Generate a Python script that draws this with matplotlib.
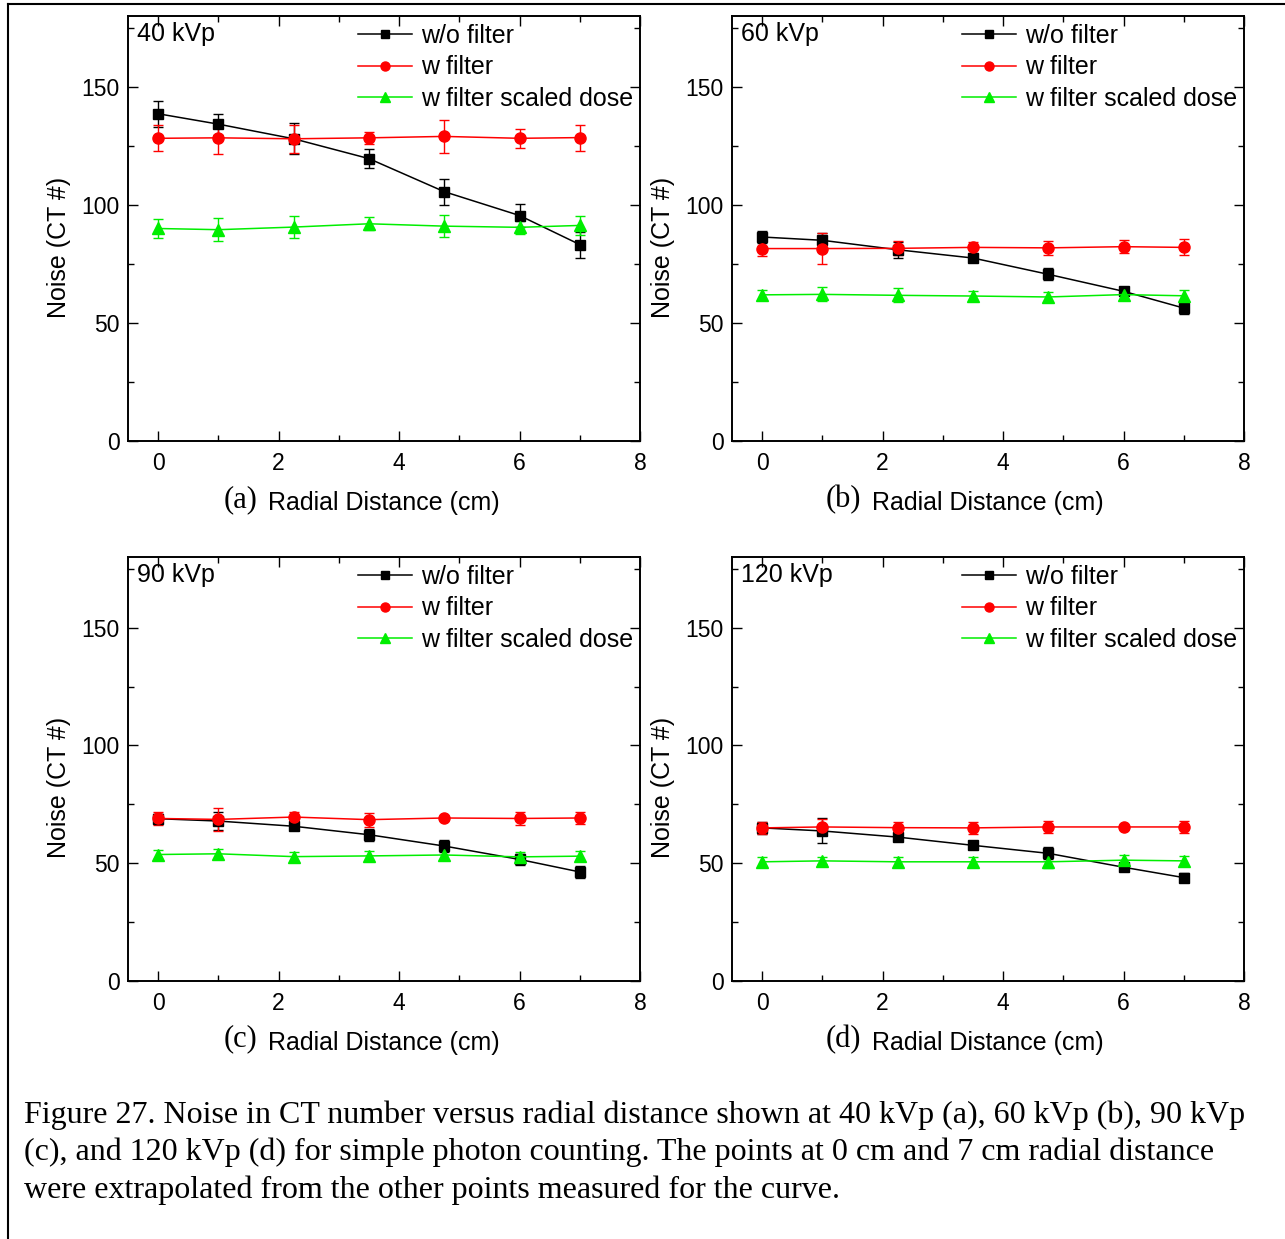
import numpy as np
import matplotlib
matplotlib.use('Agg')
import matplotlib.pyplot as plt
from matplotlib.lines import Line2D
from matplotlib.ticker import MultipleLocator

plt.rcParams['font.family'] = ['Liberation Sans', 'DejaVu Sans']

radial_cm = [0, 1, 2.25, 3.5, 4.75, 6, 7]
kvp_labels = ['40 kVp', '60 kVp', '90 kVp', '120 kVp']
panel_tags = ['(a)', '(b)', '(c)', '(d)']
series_names = ['w/o filter', 'w filter', 'w filter scaled dose']

# noise values (CT #) and error bars, one list per kVp
nofilt_40 = [138.6, 134.2, 128.0, 119.6, 105.6, 95.5, 83.2]
nofilt_40_err = [5.5, 4.5, 6.5, 4.0, 5.5, 5.0, 5.5]
filt_40 = [128.2, 128.4, 128.0, 128.4, 129.0, 128.2, 128.5]
filt_40_err = [5.5, 7.0, 6.0, 2.5, 7.0, 4.0, 5.5]
scaled_40 = [90.0, 89.5, 90.6, 92.0, 91.0, 90.5, 91.3]
scaled_40_err = [4.0, 5.0, 4.8, 2.8, 4.6, 2.7, 4.0]

nofilt_60 = [86.4, 85.0, 81.0, 77.5, 70.6, 63.4, 56.3]
nofilt_60_err = [2.4, 3.0, 3.3, 1.5, 2.5, 1.5, 2.5]
filt_60 = [81.5, 81.5, 81.6, 82.0, 81.8, 82.3, 82.0]
filt_60_err = [3.2, 6.5, 3.0, 2.4, 2.9, 2.8, 3.4]
scaled_60 = [61.9, 62.1, 61.7, 61.4, 61.0, 62.0, 61.5]
scaled_60_err = [2.2, 3.0, 3.0, 2.0, 2.0, 2.0, 2.3]

nofilt_90 = [68.9, 67.9, 65.7, 62.1, 57.3, 51.6, 46.3]
nofilt_90_err = [2.0, 3.9, 1.5, 2.6, 2.6, 2.5, 2.7]
filt_90 = [69.0, 68.6, 69.6, 68.5, 69.2, 69.0, 69.2]
filt_90_err = [2.9, 4.9, 2.1, 3.0, 1.0, 2.7, 2.7]
scaled_90 = [53.7, 54.0, 52.8, 53.1, 53.5, 52.7, 53.0]
scaled_90_err = [2.0, 2.0, 2.0, 2.0, 2.0, 2.0, 2.0]

nofilt_120 = [65.0, 63.7, 61.1, 57.6, 54.2, 48.3, 43.9]
nofilt_120_err = [2.5, 5.3, 1.0, 1.0, 2.5, 1.0, 2.0]
filt_120 = [65.0, 65.4, 65.1, 65.0, 65.4, 65.4, 65.4]
filt_120_err = [2.5, 3.5, 2.3, 2.5, 2.5, 1.0, 2.7]
scaled_120 = [50.6, 51.0, 50.6, 50.6, 50.6, 51.3, 51.0]
scaled_120_err = [2.0, 1.5, 2.0, 2.0, 2.5, 2.0, 2.0]

panels = [
    [(nofilt_40, nofilt_40_err), (filt_40, filt_40_err), (scaled_40, scaled_40_err)],
    [(nofilt_60, nofilt_60_err), (filt_60, filt_60_err), (scaled_60, scaled_60_err)],
    [(nofilt_90, nofilt_90_err), (filt_90, filt_90_err), (scaled_90, scaled_90_err)],
    [(nofilt_120, nofilt_120_err), (filt_120, filt_120_err), (scaled_120, scaled_120_err)],
]

colors = ['#000000', '#ff0000', '#00ee00']
markers = ['s', 'o', '^']
msizes = [7, 8, 8]

W, H = 1285, 1239
fig = plt.figure(figsize=(W / 100, H / 100), dpi=100)

# axes boxes in pixels: left, top, right, bottom
boxes = [(128, 16, 640, 441), (732, 16, 1244, 441),
         (128, 557, 640, 981), (732, 557, 1244, 981)]

for i, (l, t, r, b) in enumerate(boxes):
    ax = fig.add_axes([l / W, 1 - b / H, (r - l) / W, (b - t) / H])
    handles = []
    for (vals, errs), c, m, ms, name in zip(panels[i], colors, markers, msizes, series_names):
        ax.errorbar(radial_cm, vals, yerr=errs, color=c, ecolor=c, marker=m,
                    markersize=ms, linewidth=1.1,
                    elinewidth=1.0, capsize=3.5, capthick=1.0)
        handles.append(Line2D([], [], color=c, marker=m, markersize=ms - 1.5,
                              linewidth=1.1, label=name))
    ax.set_xlim(-0.5, 8)
    ax.set_ylim(0, 180)
    ax.xaxis.set_major_locator(MultipleLocator(2))
    ax.xaxis.set_minor_locator(MultipleLocator(1))
    ax.yaxis.set_major_locator(MultipleLocator(50))
    ax.yaxis.set_minor_locator(MultipleLocator(25))
    ax.tick_params(which='both', direction='in', top=True, right=True,
                   labelsize=16.5, width=1.0)
    ax.tick_params(which='major', length=7)
    ax.tick_params(which='minor', length=4)
    ax.tick_params(axis='x', pad=8)
    ax.tick_params(axis='y', pad=6)
    for s in ax.spines.values():
        s.set_linewidth(1.4)
    ax.set_ylabel('Noise (CT #)', fontsize=18)
    ax.yaxis.set_label_coords(-0.111, 0.456)
    ax.text(0.5, -0.146, 'Radial Distance (cm)', transform=ax.transAxes,
            ha='center', va='center', fontsize=18)
    ax.text(0.252, -0.137, panel_tags[i], transform=ax.transAxes,
            ha='right', va='center', fontsize=22,
            family=['Liberation Serif', 'DejaVu Serif'])
    ax.text(0.018, 0.958, kvp_labels[i], transform=ax.transAxes,
            ha='left', va='center', fontsize=18)
    ax.legend(handles=handles, loc='upper left', bbox_to_anchor=(0.43, 1.005),
              frameon=False, fontsize=18, handlelength=2.15, handletextpad=0.35,
              labelspacing=0.3, borderaxespad=0.0)

caption = ['Figure 27. Noise in CT number versus radial distance shown at 40 kVp (a), 60 kVp (b), 90 kVp',
           '(c), and 120 kVp (d) for simple photon counting. The points at 0 cm and 7 cm radial distance',
           'were extrapolated from the other points measured for the curve.']
for k, line in enumerate(caption):
    fig.text(24 / W, 1 - (1115 + 37.5 * k) / H, line, ha='left', va='center',
             fontsize=23, family=['Liberation Serif', 'DejaVu Serif'])

# page border
fig.add_artist(Line2D([8 / W, 8 / W], [0, 1 - 4 / H], color='black', linewidth=1.5))
fig.add_artist(Line2D([8 / W, 1], [1 - 4 / H, 1 - 4 / H], color='black', linewidth=1.5))

fig.savefig('out.png', dpi=100)
